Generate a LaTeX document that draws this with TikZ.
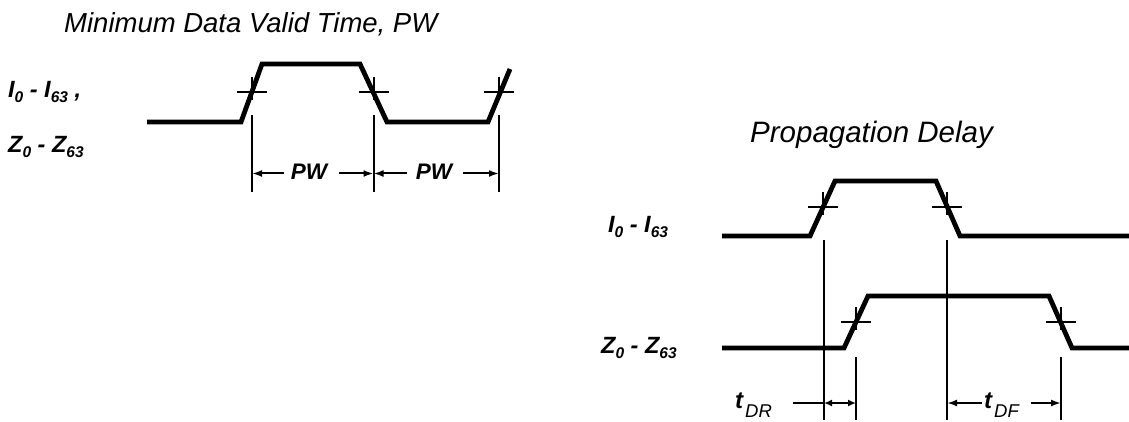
\documentclass[tikz,border=0pt]{standalone}
\usepackage{fontspec}
\setmainfont{Liberation Sans}
\usetikzlibrary{arrows.meta}
\newcommand\lowsub[1]{\raisebox{-5pt}{\fontsize{15.5pt}{15.5pt}\selectfont #1}}
\newcommand\tsub[1]{\kern2pt\raisebox{-9pt}{\mdseries\fontsize{18.5pt}{18.5pt}\selectfont #1}}
\begin{document}
\begin{tikzpicture}[x=1pt,y=-1pt,
  wave/.style={line width=4.8pt,line join=miter},
  dimline/.style={line width=2pt},
  dimarrow/.style={line width=2pt,-{Latex[length=10pt,width=7pt]}},
  dimboth/.style={line width=2pt,{Latex[length=8pt,width=7pt]}-{Latex[length=8pt,width=7pt]}},
  titletext/.style={font=\fontsize{27.5pt}{30pt}\selectfont\itshape,anchor=base west,inner sep=0pt},
  sig/.style={font=\fontsize{23.5pt}{26pt}\selectfont\bfseries\itshape,anchor=base west,inner sep=0pt},
  pwlab/.style={font=\fontsize{22.5pt}{24pt}\selectfont\bfseries\itshape,anchor=base,inner sep=0pt},
  tlab/.style={font=\fontsize{24pt}{26pt}\selectfont\bfseries\itshape,anchor=base west,inner sep=0pt},
  crossmark/.pic={\draw[dimline] (-15,0) -- (15,0) (0,-15) -- (0,8);}]
\useasboundingbox (0,0) rectangle (1129,422);

% ---------- Minimum Data Valid Time ----------
\node[titletext] (t1) at (64,33) {Minimum Data Valid Time, PW};
\node[sig] (li) at (8,98) {I\lowsub{0} - I\lowsub{63} ,};
\node[sig] (lz) at (8,153) {Z\lowsub{0} - Z\lowsub{63}};

\draw[wave] (147,122) -- (241,122) -- (262,64) -- (360,64) -- (387,122) -- (488,122) -- (510,69);
\pic at (252,92) {crossmark};
\pic at (373.5,92) {crossmark};
\pic at (499,92) {crossmark};

\coordinate (a1t) at (252,115);  \coordinate (a1b) at (252,192);
\coordinate (a2t) at (373.5,115);\coordinate (a2b) at (373.5,192);
\coordinate (a3t) at (499,115);  \coordinate (a3b) at (499,192);
\draw[dimline] (a1t) -- (a1b) (a2t) -- (a2b) (a3t) -- (a3b);

\node[pwlab] (pw1) at (309,180) {PW};
\node[pwlab] (pw2) at (434,180) {PW};
\coordinate (p1) at (252,173.5);
\coordinate (p2) at (373.5,173.5);
\coordinate (p3) at (499,173.5);
\draw[dimarrow] (284,173.5) -- (p1);
\draw[dimarrow] (339,173.5) -- (p2);
\draw[dimarrow] (407,173.5) -- (p2);
\draw[dimarrow] (463,173.5) -- (p3);

% ---------- Propagation Delay ----------
\node[titletext,font=\fontsize{29.5pt}{32pt}\selectfont\itshape] (t2) at (750,143) {Propagation Delay};
\node[sig] (ri) at (608,233) {I\lowsub{0} - I\lowsub{63}};
\node[sig] (rz) at (601,353) {Z\lowsub{0} - Z\lowsub{63}};

\draw[wave] (722,236) -- (810,236) -- (835,181) -- (936,181) -- (960,236) -- (1129,236);
\draw[wave] (722,348) -- (844,348) -- (868,296) -- (1049,296) -- (1072,348) -- (1129,348);
\pic at (823,207) {crossmark};
\pic at (947,207) {crossmark};
\pic at (856,322) {crossmark};
\pic at (1060.5,322) {crossmark};

\coordinate (v1t) at (824,240);  \coordinate (v1b) at (824,420);
\coordinate (v2t) at (947,240);  \coordinate (v2b) at (947,420);
\coordinate (v3t) at (856,357);  \coordinate (v3b) at (856,420);
\coordinate (v4t) at (1061,357); \coordinate (v4b) at (1061,420);
\draw[dimline] (v1t) -- (v1b) (v2t) -- (v2b) (v3t) -- (v3b) (v4t) -- (v4b);

\node[tlab] (tdr) at (735,408) {t\tsub{DR}};
\node[tlab] (tdf) at (984,408) {t\tsub{DF}};
\coordinate (r1) at (824,403);
\coordinate (r2) at (856,403);
\coordinate (r3) at (947,403);
\coordinate (r4) at (1061,403);
\draw[dimline] (793,403) -- (r1);
\draw[dimboth] (r1) -- (r2);
\draw[dimarrow] (982,403) -- (r3);
\draw[dimarrow] (1031,403) -- (r4);
\end{tikzpicture}
\end{document}
